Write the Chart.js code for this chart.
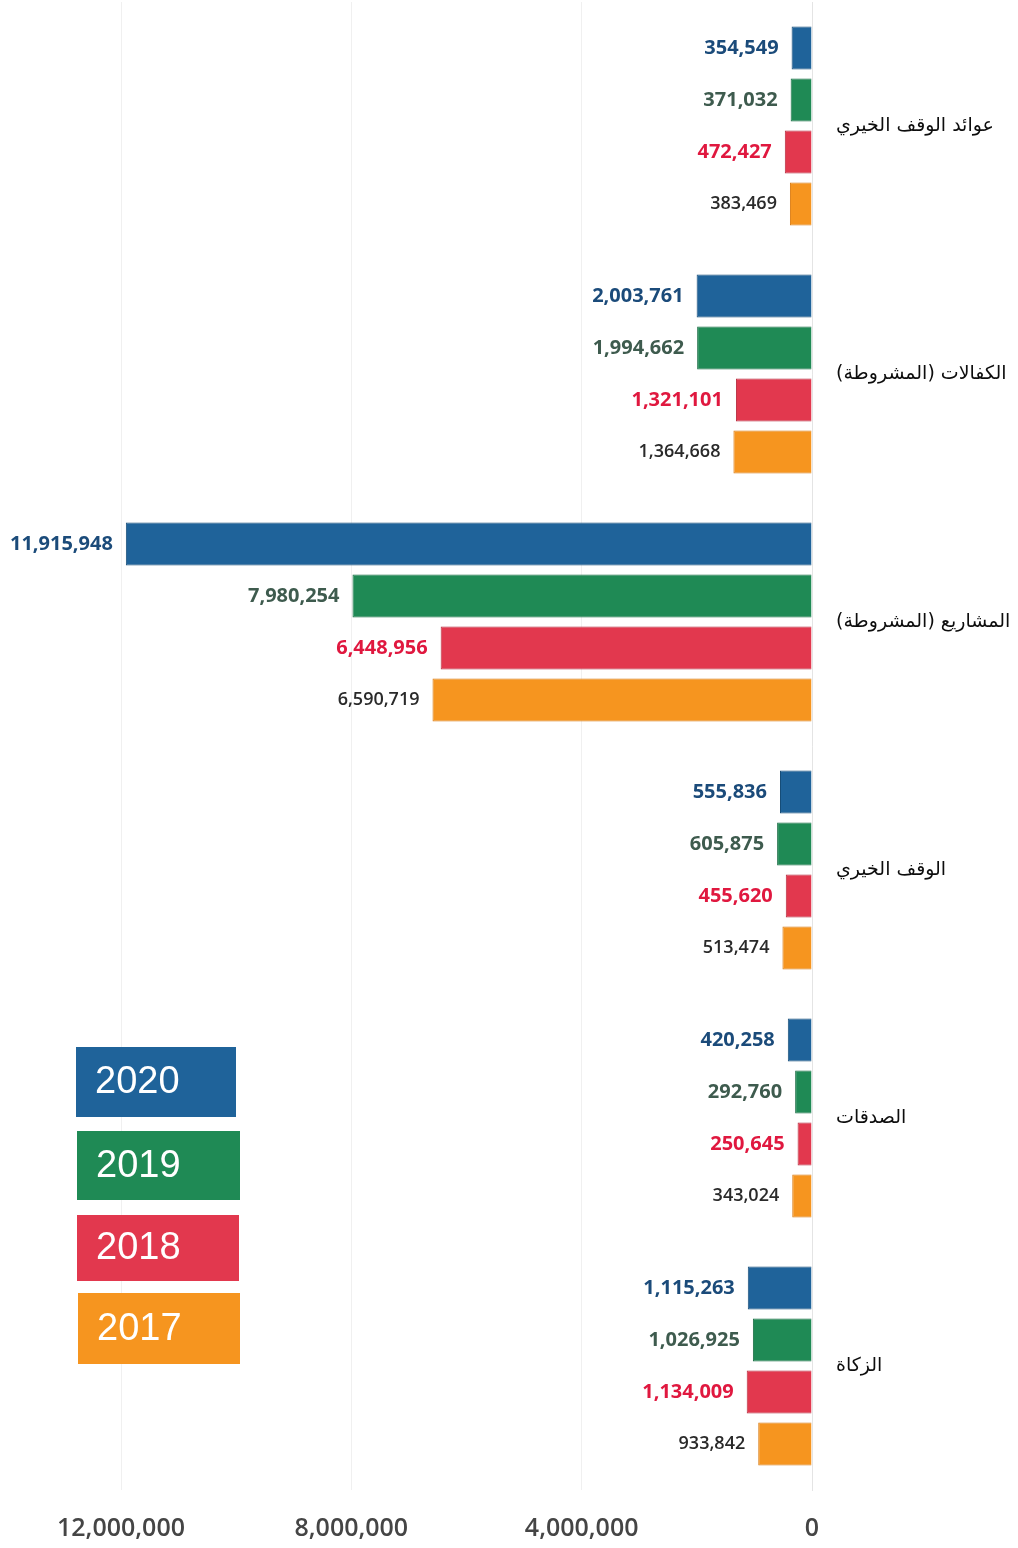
<!DOCTYPE html>
<html>
<head>
<meta charset="utf-8">
<script src="https://cdn.jsdelivr.net/npm/chart.js@4.4.0/dist/chart.umd.min.js"></script>
<style>
  body { margin: 0; background: #fff; }
  #wrap { position: relative; width: 1018px; height: 1548px; }
</style>
</head>
<body>
<div id="wrap"><canvas id="myChart"></canvas></div>
<script>
// categories top to bottom
const categories = ['عوائد الوقف الخيري', 'الكفالات (المشروطة)', 'المشاريع (المشروطة)', 'الوقف الخيري', 'الصدقات', 'الزكاة'];
const years = ['2020', '2019', '2018', '2017'];

const values2020 = [354549, 2003761, 11915948, 555836, 420258, 1115263];
const values2019 = [371032, 1994662, 7980254, 605875, 292760, 1026925];
const values2018 = [472427, 1321101, 6448956, 455620, 250645, 1134009];
const values2017 = [383469, 1364668, 6590719, 513474, 343024, 933842];

const xTicks = [0, 4000000, 8000000, 12000000];

const barColors = ['#1f639a', '#1f8a55', '#e2384e', '#f6951f'];
const borderColors = ['#174d78', '#176b42', '#b52a3c', '#d87a10'];
const labelColors = ['#1b4b7a', '#3e5b4e', '#e0183f', '#2a2a2a'];

// keep the whole label one right-to-left run (so the brackets stay with their word)
function rtl(s) {
  return '\u200F' + s + '\u200F';
}

const allValues = [values2020, values2019, values2018, values2017];

const valueLabels = {
  id: 'valueLabels',
  afterDatasetsDraw(chart) {
    const ctx = chart.ctx;
    ctx.save();
    ctx.textAlign = 'right';
    ctx.textBaseline = 'middle';
    chart.data.datasets.forEach((ds, i) => {
      const meta = chart.getDatasetMeta(i);
      ctx.fillStyle = labelColors[i];
      ctx.font = (i === 3 ? '600 18px' : 'bold 20px') + ' "Open Sans", sans-serif';
      meta.data.forEach((bar, j) => {
        const left = Math.min(bar.x, bar.base);
        ctx.fillText(ds.data[j].toLocaleString('en-US'), left - 13, bar.y);
      });
    });
    ctx.restore();
  }
};

const yearBoxes = {
  id: 'yearBoxes',
  afterDraw(chart) {
    const ctx = chart.ctx;
    const boxes = [[76, 1047, 160, 70], [77, 1131, 163, 69], [77, 1215, 162, 66], [78, 1293, 162, 71]];
    ctx.save();
    ctx.textBaseline = 'middle';
    ctx.textAlign = 'left';
    ctx.font = '38px "Liberation Sans", Arial, sans-serif';
    years.forEach((y, i) => {
      const b = boxes[i];
      ctx.fillStyle = barColors[i];
      ctx.fillRect(b[0], b[1], b[2], b[3]);
      ctx.fillStyle = '#ffffff';
      ctx.fillText(y, b[0] + 19, b[1] + b[3] / 2 + 1);
    });
    ctx.restore();
  }
};

const data = {
  labels: categories.map(rtl),
  datasets: years.map((y, i) => ({
    label: y,
    data: allValues[i],
    backgroundColor: barColors[i],
    borderColor: borderColors[i],
    borderWidth: 1,
    categoryPercentage: 0.839,
    barPercentage: 0.83
  }))
};

const config = {
  type: 'bar',
  data: data,
  options: {
    indexAxis: 'y',
    responsive: true,
    maintainAspectRatio: false,
    animation: false,
    layout: { padding: { left: 121, top: 2, right: 0, bottom: 0 } },
    plugins: {
      legend: { display: false },
      tooltip: { enabled: false }
    },
    scales: {
      x: {
        reverse: true,
        min: 0,
        max: 12000000,
        afterBuildTicks: (axis) => { axis.ticks = xTicks.map((v) => ({ value: v })); },
        afterFit: (axis) => { axis.height = 58; },
        grid: { color: 'rgba(0,0,0,0.06)', drawTicks: false },
        border: { display: false },
        ticks: {
          padding: 24,
          color: '#454545',
          font: { family: '"Open Sans", sans-serif', size: 25, weight: '600' },
          callback: (v) => Number(v).toLocaleString('en-US')
        }
      },
      y: {
        position: 'right',
        afterFit: (axis) => {
          axis.width = 206;
          axis.paddingTop = 0;
          axis.paddingBottom = 0;
        },
        grid: { display: false },
        border: { color: '#e4e4e4' },
        ticks: {
          padding: 16,
          crossAlign: 'near',
          color: '#0d0d0d',
          font: { family: '"DejaVu Sans", sans-serif', size: 19 }
        }
      }
    }
  },
  plugins: [valueLabels, yearBoxes]
};

const myChart = new Chart(document.querySelector('#myChart'), config);
</script>
</body>
</html>
